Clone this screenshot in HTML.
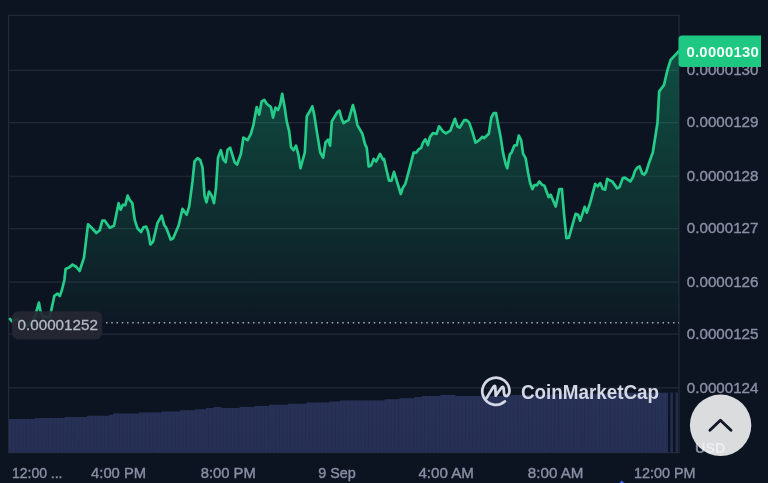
<!DOCTYPE html>
<html><head><meta charset="utf-8"><title>Chart</title>
<style>
html,body{margin:0;padding:0;background:#0d1421;}
body{width:768px;height:483px;overflow:hidden;position:relative;font-family:"Liberation Sans",sans-serif;}
svg{position:absolute;left:0;top:0;display:block;}
text{font-family:"Liberation Sans",sans-serif;}
</style></head><body>
<svg width="768" height="483" viewBox="0 0 768 483">
<defs>
<linearGradient id="ag" gradientUnits="userSpaceOnUse" x1="0" y1="50" x2="0" y2="323">
<stop offset="0" stop-color="#16c784" stop-opacity="0.33"/>
<stop offset="1" stop-color="#16c784" stop-opacity="0.028"/>
</linearGradient>
<linearGradient id="vg" gradientUnits="userSpaceOnUse" x1="0" y1="392" x2="0" y2="452">
<stop offset="0" stop-color="#283257"/>
<stop offset="1" stop-color="#263054"/>
</linearGradient>
<filter id="soft" x="0" y="0" width="768" height="483" filterUnits="userSpaceOnUse" color-interpolation-filters="sRGB"><feGaussianBlur stdDeviation="0.45"/></filter>
<pattern id="vp" width="3.72" height="10" patternUnits="userSpaceOnUse"><rect x="0" y="0" width="0.7" height="10" fill="#1c2444" opacity="0.4"/></pattern>
</defs>
<g filter="url(#soft)">
<rect x="-5" y="-5" width="778" height="493" fill="#0d1421"/>
<g stroke="#232939" stroke-width="1.2" fill="none">
<line x1="9" x2="679" y1="70.4" y2="70.4"/><line x1="9" x2="679" y1="122.7" y2="122.7"/><line x1="9" x2="679" y1="176.25" y2="176.25"/><line x1="9" x2="679" y1="228.6" y2="228.6"/><line x1="9" x2="679" y1="282.1" y2="282.1"/><line x1="9" x2="679" y1="334.2" y2="334.2"/><line x1="9" x2="679" y1="387.8" y2="387.8"/>
<line x1="8.6" x2="679.6" y1="15.4" y2="15.4"/>
<line x1="8.6" x2="8.6" y1="15" y2="453"/>
<line x1="679" x2="679" y1="15" y2="453"/>
<line x1="8.6" x2="679.6" y1="452.6" y2="452.6"/>
</g>
<path d="M10.0 319.0 L11.0 320.2 L12.3 321.4 L16.9 318.9 L21.0 322.5 L27.0 325.4 L32.0 321.0 L35.0 316.5 L36.6 311.0 L38.9 302.6 L40.4 311.0 L42.6 316.9 L49.4 316.9 L51.2 310.6 L54.4 295.8 L57.5 293.6 L59.8 296.0 L61.9 290.0 L64.4 280.0 L65.6 269.0 L69.0 267.6 L72.6 264.6 L76.4 267.0 L79.6 271.0 L84.0 257.6 L88.0 224.3 L91.4 227.5 L96.4 233.0 L99.8 230.2 L102.3 220.7 L104.8 220.7 L109.8 227.7 L114.0 225.7 L118.6 203.2 L120.6 209.7 L123.0 204.7 L125.3 205.2 L127.6 195.6 L129.8 200.2 L132.3 203.2 L134.8 220.2 L137.4 228.2 L141.1 232.0 L143.6 227.2 L146.1 226.5 L148.1 231.5 L150.4 244.5 L153.1 241.5 L157.4 223.2 L161.7 215.7 L164.2 225.2 L166.2 227.7 L170.7 239.5 L173.2 238.2 L178.7 225.2 L182.5 208.9 L186.7 214.7 L189.2 206.4 L192.5 181.4 L194.5 161.5 L197.5 158.2 L200.3 160.2 L202.5 167.2 L204.5 195.3 L206.5 202.3 L209.0 191.5 L211.5 195.3 L214.0 203.2 L216.0 187.8 L218.0 157.7 L220.8 150.2 L223.3 159.7 L225.6 162.2 L227.6 149.7 L230.1 147.7 L234.6 162.2 L237.1 164.5 L240.9 154.0 L243.4 137.6 L247.6 140.2 L250.9 133.9 L253.4 125.1 L256.7 107.1 L259.2 114.6 L261.7 101.3 L264.2 99.8 L266.7 103.8 L270.9 107.1 L273.0 117.6 L275.5 107.6 L278.0 110.1 L280.2 104.6 L282.2 93.8 L284.7 107.6 L286.7 121.4 L289.2 131.4 L291.0 147.2 L293.5 150.2 L296.0 145.7 L298.5 155.2 L300.5 168.2 L303.0 159.0 L304.8 152.7 L306.8 116.3 L309.8 111.3 L312.3 106.3 L314.3 115.1 L316.6 130.1 L320.3 152.7 L323.1 157.7 L325.6 142.2 L328.1 139.6 L330.1 145.7 L331.8 121.4 L334.9 116.3 L337.4 112.1 L339.4 110.6 L341.6 118.8 L343.6 123.1 L346.1 121.4 L348.6 120.1 L352.9 105.1 L354.9 112.6 L357.4 125.1 L362.4 133.9 L364.9 143.9 L366.7 147.7 L368.7 166.5 L371.2 165.2 L373.7 158.9 L376.2 161.5 L380.0 153.9 L383.0 159.7 L384.0 158.9 L386.0 167.7 L389.0 180.7 L391.5 180.7 L394.0 171.9 L397.0 181.5 L400.8 194.0 L402.8 187.7 L405.3 184.0 L409.1 170.2 L413.6 152.6 L416.1 152.6 L419.1 148.9 L421.1 148.1 L422.8 143.1 L425.4 139.3 L427.9 145.1 L429.9 137.1 L432.9 133.1 L436.6 133.8 L439.1 126.3 L442.9 131.3 L445.9 133.3 L450.4 130.6 L454.9 118.8 L457.4 126.3 L459.7 127.6 L464.2 120.1 L466.7 120.1 L469.2 122.6 L473.0 133.8 L475.5 142.6 L479.2 140.1 L482.5 136.8 L484.3 138.1 L488.8 133.8 L491.3 117.5 L493.8 113.0 L496.0 113.0 L498.0 123.8 L500.5 136.3 L503.0 152.6 L505.6 163.9 L507.3 168.2 L509.8 154.6 L511.8 152.1 L514.3 145.6 L516.8 145.1 L518.8 135.6 L521.1 140.1 L523.1 153.9 L525.6 158.1 L528.1 172.7 L530.1 182.7 L532.4 189.0 L534.4 185.2 L536.9 185.2 L539.4 181.5 L541.9 184.7 L544.4 185.7 L548.7 197.2 L550.7 194.7 L555.7 206.5 L559.4 189.0 L561.9 189.0 L563.9 212.7 L566.4 238.2 L568.9 237.7 L575.6 213.9 L578.1 214.7 L580.2 220.7 L584.7 206.9 L586.9 212.7 L590.2 202.7 L595.2 183.9 L597.7 186.4 L600.2 183.1 L602.7 188.9 L605.2 189.6 L607.2 178.8 L610.2 180.6 L612.2 181.4 L617.2 188.4 L619.5 187.1 L622.8 178.1 L624.8 177.6 L630.3 181.4 L632.8 177.6 L634.8 171.3 L637.3 167.6 L639.5 166.3 L642.3 173.8 L644.1 174.6 L646.1 172.1 L649.1 162.6 L652.8 152.5 L654.8 140.0 L657.5 122.8 L659.2 91.4 L664.0 85.0 L667.3 70.6 L670.6 60.0 L678.8 51.2 L678.8 322.8 L10.0 322.8 Z" fill="url(#ag)"/>
<path d="M9.00 419.10 L12.72 419.10 L12.72 419.10 L16.44 419.10 L16.44 419.10 L20.16 419.10 L20.16 419.10 L23.88 419.10 L23.88 419.10 L27.60 419.10 L27.60 419.10 L31.32 419.10 L31.32 419.10 L35.04 419.10 L35.04 418.00 L38.76 418.00 L38.76 418.00 L42.48 418.00 L42.48 418.00 L46.20 418.00 L46.20 418.00 L49.92 418.00 L49.92 418.00 L53.64 418.00 L53.64 418.00 L57.36 418.00 L57.36 418.00 L61.08 418.00 L61.08 418.00 L64.80 418.00 L64.80 416.90 L68.52 416.90 L68.52 416.90 L72.24 416.90 L72.24 416.90 L75.96 416.90 L75.96 416.90 L79.68 416.90 L79.68 416.90 L83.40 416.90 L83.40 416.90 L87.12 416.90 L87.12 415.80 L90.84 415.80 L90.84 415.80 L94.56 415.80 L94.56 415.80 L98.28 415.80 L98.28 415.80 L102.00 415.80 L102.00 415.80 L105.72 415.80 L105.72 415.80 L109.44 415.80 L109.44 414.70 L113.16 414.70 L113.16 413.60 L116.88 413.60 L116.88 413.60 L120.60 413.60 L120.60 413.60 L124.32 413.60 L124.32 413.60 L128.04 413.60 L128.04 413.60 L131.76 413.60 L131.76 413.60 L135.48 413.60 L135.48 413.60 L139.20 413.60 L139.20 412.50 L142.92 412.50 L142.92 412.50 L146.64 412.50 L146.64 412.50 L150.36 412.50 L150.36 412.50 L154.08 412.50 L154.08 412.50 L157.80 412.50 L157.80 412.50 L161.52 412.50 L161.52 411.40 L165.24 411.40 L165.24 411.40 L168.96 411.40 L168.96 411.40 L172.68 411.40 L172.68 411.40 L176.40 411.40 L176.40 411.40 L180.12 411.40 L180.12 410.30 L183.84 410.30 L183.84 410.30 L187.56 410.30 L187.56 410.30 L191.28 410.30 L191.28 410.30 L195.00 410.30 L195.00 409.20 L198.72 409.20 L198.72 409.20 L202.44 409.20 L202.44 409.20 L206.16 409.20 L206.16 408.10 L209.88 408.10 L209.88 408.10 L213.60 408.10 L213.60 407.00 L217.32 407.00 L217.32 407.00 L221.04 407.00 L221.04 408.10 L224.76 408.10 L224.76 408.10 L228.48 408.10 L228.48 408.10 L232.20 408.10 L232.20 408.10 L235.92 408.10 L235.92 408.10 L239.64 408.10 L239.64 407.00 L243.36 407.00 L243.36 407.00 L247.08 407.00 L247.08 407.00 L250.80 407.00 L250.80 407.00 L254.52 407.00 L254.52 405.90 L258.24 405.90 L258.24 405.90 L261.96 405.90 L261.96 405.90 L265.68 405.90 L265.68 405.90 L269.40 405.90 L269.40 404.80 L273.12 404.80 L273.12 404.80 L276.84 404.80 L276.84 404.80 L280.56 404.80 L280.56 404.80 L284.28 404.80 L284.28 404.80 L288.00 404.80 L288.00 403.70 L291.72 403.70 L291.72 403.70 L295.44 403.70 L295.44 403.70 L299.16 403.70 L299.16 403.70 L302.88 403.70 L302.88 403.70 L306.60 403.70 L306.60 402.60 L310.32 402.60 L310.32 402.60 L314.04 402.60 L314.04 402.60 L317.76 402.60 L317.76 402.60 L321.48 402.60 L321.48 402.60 L325.20 402.60 L325.20 402.60 L328.92 402.60 L328.92 401.50 L332.64 401.50 L332.64 401.50 L336.36 401.50 L336.36 401.50 L340.08 401.50 L340.08 400.40 L343.80 400.40 L343.80 400.40 L347.52 400.40 L347.52 400.40 L351.24 400.40 L351.24 400.40 L354.96 400.40 L354.96 400.40 L358.68 400.40 L358.68 400.40 L362.40 400.40 L362.40 400.40 L366.12 400.40 L366.12 400.40 L369.84 400.40 L369.84 400.40 L373.56 400.40 L373.56 400.40 L377.28 400.40 L377.28 400.40 L381.00 400.40 L381.00 400.40 L384.72 400.40 L384.72 399.30 L388.44 399.30 L388.44 399.30 L392.16 399.30 L392.16 399.30 L395.88 399.30 L395.88 399.30 L399.60 399.30 L399.60 398.20 L403.32 398.20 L403.32 398.20 L407.04 398.20 L407.04 398.20 L410.76 398.20 L410.76 398.20 L414.48 398.20 L414.48 397.10 L418.20 397.10 L418.20 397.10 L421.92 397.10 L421.92 396.00 L425.64 396.00 L425.64 396.00 L429.36 396.00 L429.36 396.00 L433.08 396.00 L433.08 396.00 L436.80 396.00 L436.80 396.00 L440.52 396.00 L440.52 394.90 L444.24 394.90 L444.24 394.90 L447.96 394.90 L447.96 394.90 L451.68 394.90 L451.68 394.90 L455.40 394.90 L455.40 396.00 L459.12 396.00 L459.12 396.00 L462.84 396.00 L462.84 396.00 L466.56 396.00 L466.56 396.00 L470.28 396.00 L470.28 396.00 L474.00 396.00 L474.00 396.00 L477.72 396.00 L477.72 396.00 L481.44 396.00 L481.44 396.00 L485.16 396.00 L485.16 396.00 L488.88 396.00 L488.88 396.00 L492.60 396.00 L492.60 396.00 L496.32 396.00 L496.32 396.00 L500.04 396.00 L500.04 396.00 L503.76 396.00 L503.76 396.00 L507.48 396.00 L507.48 396.00 L511.20 396.00 L511.20 394.90 L514.92 394.90 L514.92 394.90 L518.64 394.90 L518.64 394.90 L522.36 394.90 L522.36 394.90 L526.08 394.90 L526.08 394.90 L529.80 394.90 L529.80 394.90 L533.52 394.90 L533.52 394.90 L537.24 394.90 L537.24 394.90 L540.96 394.90 L540.96 394.90 L544.68 394.90 L544.68 394.90 L548.40 394.90 L548.40 394.90 L552.12 394.90 L552.12 394.90 L555.84 394.90 L555.84 393.80 L559.56 393.80 L559.56 393.80 L563.28 393.80 L563.28 393.80 L567.00 393.80 L567.00 393.80 L570.72 393.80 L570.72 393.80 L574.44 393.80 L574.44 393.80 L578.16 393.80 L578.16 393.80 L581.88 393.80 L581.88 393.80 L585.60 393.80 L585.60 393.80 L589.32 393.80 L589.32 393.80 L593.04 393.80 L593.04 393.80 L596.76 393.80 L596.76 393.80 L600.48 393.80 L600.48 393.80 L604.20 393.80 L604.20 393.80 L607.92 393.80 L607.92 392.70 L611.64 392.70 L611.64 392.70 L615.36 392.70 L615.36 392.70 L619.08 392.70 L619.08 392.70 L622.80 392.70 L622.80 392.70 L626.52 392.70 L626.52 392.70 L630.24 392.70 L630.24 392.70 L633.96 392.70 L633.96 392.70 L637.68 392.70 L637.68 392.70 L641.40 392.70 L641.40 392.70 L645.12 392.70 L645.12 392.70 L648.84 392.70 L648.84 392.70 L652.56 392.70 L652.56 392.70 L656.28 392.70 L656.28 392.70 L660.00 392.70 L660.00 392.70 L663.72 392.70 L663.72 392.70 L667.44 392.70 L667.44 392.70 L668.00 392.70 L668 452.5 L9 452.5 Z" fill="url(#vg)"/>
<path d="M9.00 419.10 L12.72 419.10 L12.72 419.10 L16.44 419.10 L16.44 419.10 L20.16 419.10 L20.16 419.10 L23.88 419.10 L23.88 419.10 L27.60 419.10 L27.60 419.10 L31.32 419.10 L31.32 419.10 L35.04 419.10 L35.04 418.00 L38.76 418.00 L38.76 418.00 L42.48 418.00 L42.48 418.00 L46.20 418.00 L46.20 418.00 L49.92 418.00 L49.92 418.00 L53.64 418.00 L53.64 418.00 L57.36 418.00 L57.36 418.00 L61.08 418.00 L61.08 418.00 L64.80 418.00 L64.80 416.90 L68.52 416.90 L68.52 416.90 L72.24 416.90 L72.24 416.90 L75.96 416.90 L75.96 416.90 L79.68 416.90 L79.68 416.90 L83.40 416.90 L83.40 416.90 L87.12 416.90 L87.12 415.80 L90.84 415.80 L90.84 415.80 L94.56 415.80 L94.56 415.80 L98.28 415.80 L98.28 415.80 L102.00 415.80 L102.00 415.80 L105.72 415.80 L105.72 415.80 L109.44 415.80 L109.44 414.70 L113.16 414.70 L113.16 413.60 L116.88 413.60 L116.88 413.60 L120.60 413.60 L120.60 413.60 L124.32 413.60 L124.32 413.60 L128.04 413.60 L128.04 413.60 L131.76 413.60 L131.76 413.60 L135.48 413.60 L135.48 413.60 L139.20 413.60 L139.20 412.50 L142.92 412.50 L142.92 412.50 L146.64 412.50 L146.64 412.50 L150.36 412.50 L150.36 412.50 L154.08 412.50 L154.08 412.50 L157.80 412.50 L157.80 412.50 L161.52 412.50 L161.52 411.40 L165.24 411.40 L165.24 411.40 L168.96 411.40 L168.96 411.40 L172.68 411.40 L172.68 411.40 L176.40 411.40 L176.40 411.40 L180.12 411.40 L180.12 410.30 L183.84 410.30 L183.84 410.30 L187.56 410.30 L187.56 410.30 L191.28 410.30 L191.28 410.30 L195.00 410.30 L195.00 409.20 L198.72 409.20 L198.72 409.20 L202.44 409.20 L202.44 409.20 L206.16 409.20 L206.16 408.10 L209.88 408.10 L209.88 408.10 L213.60 408.10 L213.60 407.00 L217.32 407.00 L217.32 407.00 L221.04 407.00 L221.04 408.10 L224.76 408.10 L224.76 408.10 L228.48 408.10 L228.48 408.10 L232.20 408.10 L232.20 408.10 L235.92 408.10 L235.92 408.10 L239.64 408.10 L239.64 407.00 L243.36 407.00 L243.36 407.00 L247.08 407.00 L247.08 407.00 L250.80 407.00 L250.80 407.00 L254.52 407.00 L254.52 405.90 L258.24 405.90 L258.24 405.90 L261.96 405.90 L261.96 405.90 L265.68 405.90 L265.68 405.90 L269.40 405.90 L269.40 404.80 L273.12 404.80 L273.12 404.80 L276.84 404.80 L276.84 404.80 L280.56 404.80 L280.56 404.80 L284.28 404.80 L284.28 404.80 L288.00 404.80 L288.00 403.70 L291.72 403.70 L291.72 403.70 L295.44 403.70 L295.44 403.70 L299.16 403.70 L299.16 403.70 L302.88 403.70 L302.88 403.70 L306.60 403.70 L306.60 402.60 L310.32 402.60 L310.32 402.60 L314.04 402.60 L314.04 402.60 L317.76 402.60 L317.76 402.60 L321.48 402.60 L321.48 402.60 L325.20 402.60 L325.20 402.60 L328.92 402.60 L328.92 401.50 L332.64 401.50 L332.64 401.50 L336.36 401.50 L336.36 401.50 L340.08 401.50 L340.08 400.40 L343.80 400.40 L343.80 400.40 L347.52 400.40 L347.52 400.40 L351.24 400.40 L351.24 400.40 L354.96 400.40 L354.96 400.40 L358.68 400.40 L358.68 400.40 L362.40 400.40 L362.40 400.40 L366.12 400.40 L366.12 400.40 L369.84 400.40 L369.84 400.40 L373.56 400.40 L373.56 400.40 L377.28 400.40 L377.28 400.40 L381.00 400.40 L381.00 400.40 L384.72 400.40 L384.72 399.30 L388.44 399.30 L388.44 399.30 L392.16 399.30 L392.16 399.30 L395.88 399.30 L395.88 399.30 L399.60 399.30 L399.60 398.20 L403.32 398.20 L403.32 398.20 L407.04 398.20 L407.04 398.20 L410.76 398.20 L410.76 398.20 L414.48 398.20 L414.48 397.10 L418.20 397.10 L418.20 397.10 L421.92 397.10 L421.92 396.00 L425.64 396.00 L425.64 396.00 L429.36 396.00 L429.36 396.00 L433.08 396.00 L433.08 396.00 L436.80 396.00 L436.80 396.00 L440.52 396.00 L440.52 394.90 L444.24 394.90 L444.24 394.90 L447.96 394.90 L447.96 394.90 L451.68 394.90 L451.68 394.90 L455.40 394.90 L455.40 396.00 L459.12 396.00 L459.12 396.00 L462.84 396.00 L462.84 396.00 L466.56 396.00 L466.56 396.00 L470.28 396.00 L470.28 396.00 L474.00 396.00 L474.00 396.00 L477.72 396.00 L477.72 396.00 L481.44 396.00 L481.44 396.00 L485.16 396.00 L485.16 396.00 L488.88 396.00 L488.88 396.00 L492.60 396.00 L492.60 396.00 L496.32 396.00 L496.32 396.00 L500.04 396.00 L500.04 396.00 L503.76 396.00 L503.76 396.00 L507.48 396.00 L507.48 396.00 L511.20 396.00 L511.20 394.90 L514.92 394.90 L514.92 394.90 L518.64 394.90 L518.64 394.90 L522.36 394.90 L522.36 394.90 L526.08 394.90 L526.08 394.90 L529.80 394.90 L529.80 394.90 L533.52 394.90 L533.52 394.90 L537.24 394.90 L537.24 394.90 L540.96 394.90 L540.96 394.90 L544.68 394.90 L544.68 394.90 L548.40 394.90 L548.40 394.90 L552.12 394.90 L552.12 394.90 L555.84 394.90 L555.84 393.80 L559.56 393.80 L559.56 393.80 L563.28 393.80 L563.28 393.80 L567.00 393.80 L567.00 393.80 L570.72 393.80 L570.72 393.80 L574.44 393.80 L574.44 393.80 L578.16 393.80 L578.16 393.80 L581.88 393.80 L581.88 393.80 L585.60 393.80 L585.60 393.80 L589.32 393.80 L589.32 393.80 L593.04 393.80 L593.04 393.80 L596.76 393.80 L596.76 393.80 L600.48 393.80 L600.48 393.80 L604.20 393.80 L604.20 393.80 L607.92 393.80 L607.92 392.70 L611.64 392.70 L611.64 392.70 L615.36 392.70 L615.36 392.70 L619.08 392.70 L619.08 392.70 L622.80 392.70 L622.80 392.70 L626.52 392.70 L626.52 392.70 L630.24 392.70 L630.24 392.70 L633.96 392.70 L633.96 392.70 L637.68 392.70 L637.68 392.70 L641.40 392.70 L641.40 392.70 L645.12 392.70 L645.12 392.70 L648.84 392.70 L648.84 392.70 L652.56 392.70 L652.56 392.70 L656.28 392.70 L656.28 392.70 L660.00 392.70 L660.00 392.70 L663.72 392.70 L663.72 392.70 L667.44 392.70 L667.44 392.70 L668.00 392.70 L668 452.5 L9 452.5 Z" fill="url(#vp)"/>
<rect x="670.2" y="392.5" width="2.8" height="60" fill="#232c4f"/>
<rect x="675.6" y="392.5" width="2.4" height="60" fill="#232c4f"/>
<line x1="106" x2="679" y1="322.8" y2="322.8" stroke="#a3a8b8" stroke-width="1.4" stroke-dasharray="1.5 3.75" />
<path d="M10.0 319.0 L11.0 320.2 L12.3 321.4 L16.9 318.9 L21.0 322.5 L27.0 325.4 L32.0 321.0 L35.0 316.5 L36.6 311.0 L38.9 302.6 L40.4 311.0 L42.6 316.9 L49.4 316.9 L51.2 310.6 L54.4 295.8 L57.5 293.6 L59.8 296.0 L61.9 290.0 L64.4 280.0 L65.6 269.0 L69.0 267.6 L72.6 264.6 L76.4 267.0 L79.6 271.0 L84.0 257.6 L88.0 224.3 L91.4 227.5 L96.4 233.0 L99.8 230.2 L102.3 220.7 L104.8 220.7 L109.8 227.7 L114.0 225.7 L118.6 203.2 L120.6 209.7 L123.0 204.7 L125.3 205.2 L127.6 195.6 L129.8 200.2 L132.3 203.2 L134.8 220.2 L137.4 228.2 L141.1 232.0 L143.6 227.2 L146.1 226.5 L148.1 231.5 L150.4 244.5 L153.1 241.5 L157.4 223.2 L161.7 215.7 L164.2 225.2 L166.2 227.7 L170.7 239.5 L173.2 238.2 L178.7 225.2 L182.5 208.9 L186.7 214.7 L189.2 206.4 L192.5 181.4 L194.5 161.5 L197.5 158.2 L200.3 160.2 L202.5 167.2 L204.5 195.3 L206.5 202.3 L209.0 191.5 L211.5 195.3 L214.0 203.2 L216.0 187.8 L218.0 157.7 L220.8 150.2 L223.3 159.7 L225.6 162.2 L227.6 149.7 L230.1 147.7 L234.6 162.2 L237.1 164.5 L240.9 154.0 L243.4 137.6 L247.6 140.2 L250.9 133.9 L253.4 125.1 L256.7 107.1 L259.2 114.6 L261.7 101.3 L264.2 99.8 L266.7 103.8 L270.9 107.1 L273.0 117.6 L275.5 107.6 L278.0 110.1 L280.2 104.6 L282.2 93.8 L284.7 107.6 L286.7 121.4 L289.2 131.4 L291.0 147.2 L293.5 150.2 L296.0 145.7 L298.5 155.2 L300.5 168.2 L303.0 159.0 L304.8 152.7 L306.8 116.3 L309.8 111.3 L312.3 106.3 L314.3 115.1 L316.6 130.1 L320.3 152.7 L323.1 157.7 L325.6 142.2 L328.1 139.6 L330.1 145.7 L331.8 121.4 L334.9 116.3 L337.4 112.1 L339.4 110.6 L341.6 118.8 L343.6 123.1 L346.1 121.4 L348.6 120.1 L352.9 105.1 L354.9 112.6 L357.4 125.1 L362.4 133.9 L364.9 143.9 L366.7 147.7 L368.7 166.5 L371.2 165.2 L373.7 158.9 L376.2 161.5 L380.0 153.9 L383.0 159.7 L384.0 158.9 L386.0 167.7 L389.0 180.7 L391.5 180.7 L394.0 171.9 L397.0 181.5 L400.8 194.0 L402.8 187.7 L405.3 184.0 L409.1 170.2 L413.6 152.6 L416.1 152.6 L419.1 148.9 L421.1 148.1 L422.8 143.1 L425.4 139.3 L427.9 145.1 L429.9 137.1 L432.9 133.1 L436.6 133.8 L439.1 126.3 L442.9 131.3 L445.9 133.3 L450.4 130.6 L454.9 118.8 L457.4 126.3 L459.7 127.6 L464.2 120.1 L466.7 120.1 L469.2 122.6 L473.0 133.8 L475.5 142.6 L479.2 140.1 L482.5 136.8 L484.3 138.1 L488.8 133.8 L491.3 117.5 L493.8 113.0 L496.0 113.0 L498.0 123.8 L500.5 136.3 L503.0 152.6 L505.6 163.9 L507.3 168.2 L509.8 154.6 L511.8 152.1 L514.3 145.6 L516.8 145.1 L518.8 135.6 L521.1 140.1 L523.1 153.9 L525.6 158.1 L528.1 172.7 L530.1 182.7 L532.4 189.0 L534.4 185.2 L536.9 185.2 L539.4 181.5 L541.9 184.7 L544.4 185.7 L548.7 197.2 L550.7 194.7 L555.7 206.5 L559.4 189.0 L561.9 189.0 L563.9 212.7 L566.4 238.2 L568.9 237.7 L575.6 213.9 L578.1 214.7 L580.2 220.7 L584.7 206.9 L586.9 212.7 L590.2 202.7 L595.2 183.9 L597.7 186.4 L600.2 183.1 L602.7 188.9 L605.2 189.6 L607.2 178.8 L610.2 180.6 L612.2 181.4 L617.2 188.4 L619.5 187.1 L622.8 178.1 L624.8 177.6 L630.3 181.4 L632.8 177.6 L634.8 171.3 L637.3 167.6 L639.5 166.3 L642.3 173.8 L644.1 174.6 L646.1 172.1 L649.1 162.6 L652.8 152.5 L654.8 140.0 L657.5 122.8 L659.2 91.4 L664.0 85.0 L667.3 70.6 L670.6 60.0 L678.8 51.2" fill="none" stroke="#25cb88" stroke-width="2.7" stroke-linejoin="round" stroke-linecap="round"/>
<g fill="#8a8fa4" stroke="#8a8fa4" stroke-width="0.4" font-size="15.4px" opacity="0.995">
<text x="686.8" y="75.1" textLength="71.7" lengthAdjust="spacingAndGlyphs">0.0000130</text><text x="686.8" y="127.4" textLength="71.7" lengthAdjust="spacingAndGlyphs">0.0000129</text><text x="686.8" y="180.9" textLength="71.7" lengthAdjust="spacingAndGlyphs">0.0000128</text><text x="686.8" y="233.3" textLength="71.7" lengthAdjust="spacingAndGlyphs">0.0000127</text><text x="686.8" y="286.8" textLength="71.7" lengthAdjust="spacingAndGlyphs">0.0000126</text><text x="686.8" y="338.9" textLength="71.7" lengthAdjust="spacingAndGlyphs">0.0000125</text><text x="686.8" y="392.5" textLength="71.7" lengthAdjust="spacingAndGlyphs">0.0000124</text>
</g>
<g fill="#8a8fa4" stroke="#8a8fa4" stroke-width="0.4" font-size="15.2px" opacity="0.995">
<text x="12" y="478" textLength="50.5" lengthAdjust="spacingAndGlyphs">12:00 ...</text>
<text x="91.1" y="478" textLength="55" lengthAdjust="spacingAndGlyphs">4:00 PM</text><text x="200.7" y="478" textLength="55" lengthAdjust="spacingAndGlyphs">8:00 PM</text><text x="318.2" y="478" textLength="37.5" lengthAdjust="spacingAndGlyphs">9 Sep</text><text x="418.4" y="478" textLength="55.5" lengthAdjust="spacingAndGlyphs">4:00 AM</text><text x="527.8" y="478" textLength="55.7" lengthAdjust="spacingAndGlyphs">8:00 AM</text><text x="634.0" y="478" textLength="61.5" lengthAdjust="spacingAndGlyphs">12:00 PM</text>
</g>
<!-- start price label -->
<rect x="12" y="311.3" width="90.2" height="28.2" rx="6.5" fill="#262833" fill-opacity="0.93"/>
<text x="17.5" y="330.2" font-size="15.2px" fill="#b5b9c7" stroke="#b5b9c7" stroke-width="0.3" textLength="80.5" lengthAdjust="spacingAndGlyphs">0.00001252</text>
<!-- current price label -->
<path d="M682 35.6 H761 V66.9 H682 Q678.5 66.9 678.5 63.4 V39.1 Q678.5 35.6 682 35.6 Z" fill="#1ec882"/>
<text x="686.4" y="56.9" font-size="14.8px" font-weight="bold" fill="#f2fff9" textLength="72.4" lengthAdjust="spacing">0.0000130</text>
<!-- watermark -->
<path transform="translate(0.1,0.5)" d="M485.3 399.4 L493.4 386.3 C494.2 385 495.1 385.2 495.2 386.6 L495.6 395.2 L501.3 387.2 C502.2 385.8 503.4 386.1 503.5 387.8 L503.9 392.6 C504.1 395.4 506.3 396.4 507.9 394.6 C509.1 393.2 509.4 392 509.4 390.75 A13.6 13.6 0 1 0 504.9 400.85" fill="none" stroke="#d4d7e5" stroke-width="2.75" stroke-linecap="round" stroke-linejoin="round"/>
<text x="520.9" y="398.7" font-size="20.4px" font-weight="bold" fill="#d4d7e5" textLength="138.2" lengthAdjust="spacingAndGlyphs">CoinMarketCap</text>
<!-- USD + button -->
<text x="695.1" y="453.2" font-size="15.3px" font-weight="bold" fill="#858a9c" textLength="30.2" lengthAdjust="spacingAndGlyphs">USD</text>
<circle cx="720.6" cy="425.3" r="30.7" fill="#ffffff" fill-opacity="0.85"/>
<path d="M709.9 430.3 L720.4 420.3 L731 430.3" fill="none" stroke="#141824" stroke-width="2.9" stroke-linecap="round" stroke-linejoin="round"/>
<path d="M619.2 483 L621.8 480.4 L624.4 483 Z" fill="#3861fb"/>
</g>
</svg>
</body></html>
